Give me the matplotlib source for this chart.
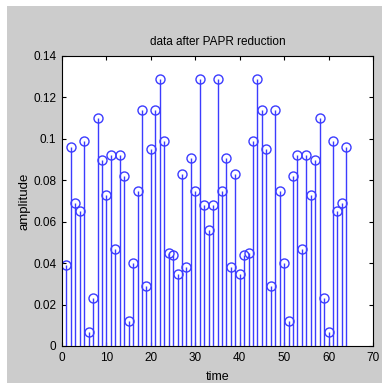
import matplotlib
matplotlib.use("Agg")
import matplotlib.pyplot as plt
from matplotlib.patches import Rectangle
import numpy as np

# sample index and amplitude after PAPR reduction
time = np.arange(1, 65)
amplitude = [
    0.039, 0.096, 0.069, 0.065, 0.099, 0.007, 0.023, 0.110,
    0.090, 0.073, 0.092, 0.047, 0.092, 0.082, 0.012, 0.040,
    0.075, 0.114, 0.029, 0.095, 0.114, 0.129, 0.099, 0.045,
    0.044, 0.035, 0.083, 0.038, 0.091, 0.075, 0.129, 0.068,
    0.056, 0.068, 0.129, 0.075, 0.091, 0.038, 0.083, 0.035,
    0.044, 0.045, 0.099, 0.129, 0.114, 0.095, 0.029, 0.114,
    0.075, 0.040, 0.012, 0.082, 0.092, 0.047, 0.092, 0.073,
    0.090, 0.110, 0.023, 0.007, 0.099, 0.065, 0.069, 0.096,
]
x_ticks = [0, 10, 20, 30, 40, 50, 60, 70]
y_ticks = [0, 0.02, 0.04, 0.06, 0.08, 0.1, 0.12, 0.14]
y_tick_labels = ["0", "0.02", "0.04", "0.06", "0.08", "0.1", "0.12", "0.14"]

plt.rcParams["font.family"] = ["Liberation Sans", "DejaVu Sans"]
plt.rcParams["font.size"] = 8.5

fig = plt.figure(figsize=(3.82, 3.85), dpi=100, facecolor="white")
# grey MATLAB-style figure background with a thin white border
grey = Rectangle((7 / 382, 2 / 385), 1 - 7 / 382, 1 - 8 / 385,
                 transform=fig.transFigure, facecolor="#cccccc",
                 edgecolor="none", zorder=-10)
fig.add_artist(grey)

ax = fig.add_axes([62 / 382, 39 / 385, 311 / 382, 290 / 385])
ax.set_facecolor("white")

blue = "#3c3cff"
markers, stems, base = ax.stem(time, amplitude)
plt.setp(stems, color=blue, linewidth=1.0)
plt.setp(markers, color=blue, marker="o", markersize=6.5,
         markerfacecolor="none", markeredgewidth=1.0)
base.set_visible(False)

ax.set_xlim(0, 70)
ax.set_ylim(0, 0.14)
ax.set_xticks(x_ticks)
ax.set_yticks(y_ticks)
ax.set_yticklabels(y_tick_labels)
ax.tick_params(direction="in", length=3, width=0.8, top=True, right=True,
               labelsize=8.5, colors="black", pad=4)
for spine in ax.spines.values():
    spine.set_linewidth(0.8)

ax.set_title("data after PAPR reduction", fontsize=8.5, pad=8)
ax.set_xlabel("time", fontsize=9, labelpad=5)
ax.set_ylabel("amplitude", fontsize=9.5, labelpad=2)

fig.savefig("out.png", dpi=100, facecolor="white")
